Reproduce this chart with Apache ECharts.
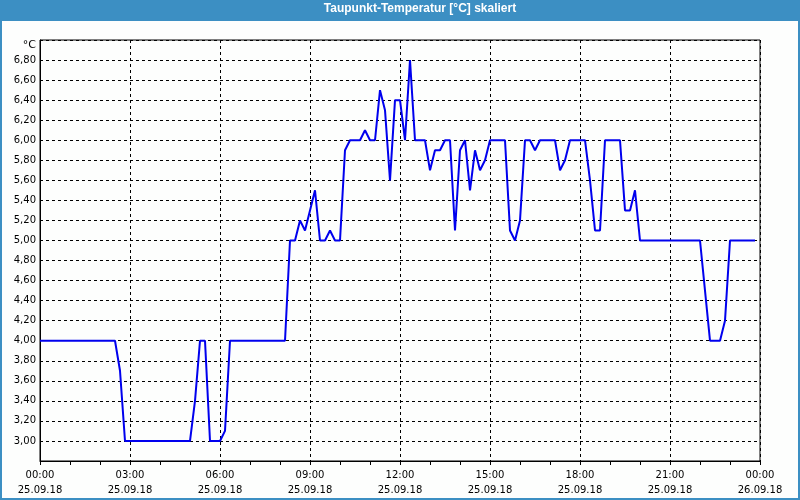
<!DOCTYPE html>
<html>
<head>
<meta charset="utf-8">
<script src="https://cdn.jsdelivr.net/npm/echarts@6/dist/echarts.min.js"></script>
<style>
html,body{margin:0;padding:0;background:#fdfefd;}
#c{width:800px;height:500px;}
</style>
</head>
<body>
<div id="c"></div>
<script>
// Sampling interval of the series, in minutes
const stepMinutes = 10;
// Dew point values, 25.09.18 00:00 .. 23:50 (one row per hour, 10-minute samples)
const values = [
  4.0, 4.0, 4.0, 4.0, 4.0, 4.0,
  4.0, 4.0, 4.0, 4.0, 4.0, 4.0,
  4.0, 4.0, 4.0, 4.0, 3.7, 3.0,
  3.0, 3.0, 3.0, 3.0, 3.0, 3.0,
  3.0, 3.0, 3.0, 3.0, 3.0, 3.0,
  3.0, 3.4, 4.0, 4.0, 3.0, 3.0,
  3.0, 3.1, 4.0, 4.0, 4.0, 4.0,
  4.0, 4.0, 4.0, 4.0, 4.0, 4.0,
  4.0, 4.0, 5.0, 5.0, 5.2, 5.1,
  5.3, 5.5, 5.0, 5.0, 5.1, 5.0,
  5.0, 5.9, 6.0, 6.0, 6.0, 6.1,
  6.0, 6.0, 6.5, 6.3, 5.6, 6.4,
  6.4, 6.0, 6.8, 6.0, 6.0, 6.0,
  5.7, 5.9, 5.9, 6.0, 6.0, 5.1,
  5.9, 6.0, 5.5, 5.9, 5.7, 5.8,
  6.0, 6.0, 6.0, 6.0, 5.1, 5.0,
  5.2, 6.0, 6.0, 5.9, 6.0, 6.0,
  6.0, 6.0, 5.7, 5.8, 6.0, 6.0,
  6.0, 6.0, 5.6, 5.1, 5.1, 6.0,
  6.0, 6.0, 6.0, 5.3, 5.3, 5.5,
  5.0, 5.0, 5.0, 5.0, 5.0, 5.0,
  5.0, 5.0, 5.0, 5.0, 5.0, 5.0,
  5.0, 4.5, 4.0, 4.0, 4.0, 4.2,
  5.0, 5.0, 5.0, 5.0, 5.0, 5.0
];
const xTickLabels = [
  '00:00\n25.09.18', '03:00\n25.09.18', '06:00\n25.09.18', '09:00\n25.09.18',
  '12:00\n25.09.18', '15:00\n25.09.18', '18:00\n25.09.18', '21:00\n25.09.18',
  '00:00\n26.09.18'
];
const titleText = 'Taupunkt-Temperatur [°C] skaliert';
const yUnit = '°C';

const seriesData = values.map((v, i) => [i * stepMinutes, v]);

const chart = echarts.init(document.getElementById('c'), null, {renderer: 'canvas'});
const dash = {color: '#000', width: 1, type: [3, 3]};
chart.setOption({
  backgroundColor: '#fdfefd',
  animation: false,
  graphic: [
    {type: 'rect', z: -10, silent: true, shape: {x: 0, y: 0, width: 800, height: 21}, style: {fill: '#3c8fc3'}},
    {type: 'rect', z: -10, silent: true, shape: {x: 1, y: 1, width: 798, height: 498}, style: {fill: null, stroke: '#3c8fc3', lineWidth: 2}}
  ],
  title: {
    text: titleText,
    left: 420,
    top: 3,
    textAlign: 'center',
    padding: 0,
    textStyle: {color: '#fff', fontFamily: 'Liberation Sans', fontWeight: 'bold', fontSize: 12}
  },
  grid: {left: 40, right: 40, top: 40, bottom: 39, show: true, borderColor: '#000', borderWidth: 1, backgroundColor: 'transparent'},
  xAxis: {
    type: 'value',
    min: 0, max: 1440, interval: 180,
    axisLine: {show: true, lineStyle: {color: '#000', width: 1}},
    axisTick: {show: true, length: 4, lineStyle: {color: '#000'}},
    minorTick: {show: true, splitNumber: 3, length: 4, lineStyle: {color: '#000'}},
    splitLine: {show: true, lineStyle: dash},
    axisLabel: {
      color: '#000', fontFamily: 'DejaVu Sans', fontSize: 10, lineHeight: 15, margin: 7,
      showMinLabel: true, showMaxLabel: true,
      formatter: v => xTickLabels[Math.round(v / 180)]
    }
  },
  yAxis: {
    type: 'value',
    min: 2.8, max: 7.0, interval: 0.2,
    name: yUnit,
    nameLocation: 'end',
    nameGap: -5,
    nameTextStyle: {color: '#000', fontFamily: 'DejaVu Sans', fontSize: 11, align: 'right', verticalAlign: 'middle', padding: [0, 4, 0, 0]},
    axisLine: {show: true, lineStyle: {color: '#000', width: 1}},
    axisTick: {show: false},
    splitLine: {show: true, lineStyle: dash},
    axisLabel: {
      color: '#000', fontFamily: 'DejaVu Sans', fontSize: 10, margin: 4,
      showMinLabel: false, showMaxLabel: false,
      formatter: v => v.toFixed(2).replace('.', ',')
    }
  },
  series: [{
    type: 'line',
    data: seriesData,
    showSymbol: false,
    symbol: 'none',
    lineStyle: {color: '#0000ee', width: 2},
    itemStyle: {color: '#0000ee'}
  }]
});
</script>
</body>
</html>
